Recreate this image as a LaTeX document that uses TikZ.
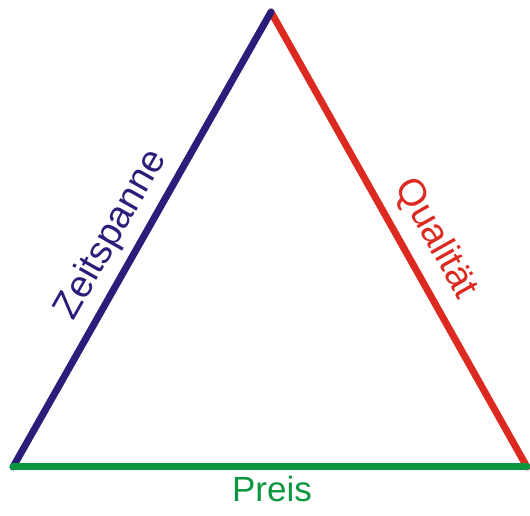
\documentclass[tikz,border=0pt]{standalone}
\usepackage{fontspec}
\setmainfont{Liberation Sans}
\definecolor{triblue}{RGB}{43,30,122}
\definecolor{trired}{RGB}{220,42,32}
\definecolor{trigreen}{RGB}{12,150,64}
\begin{document}
\begin{tikzpicture}[x=1pt,y=1pt,
  edge/.style={line width=7pt,line cap=round},
  lbl/.style={font=\fontsize{38}{42}\selectfont,inner sep=0pt,text height=0.72em,text depth=0pt,anchor=center}]
\useasboundingbox (0,0) rectangle (530,516);
\coordinate (A) at (271,504);
\coordinate (L) at (13,49);
\coordinate (R) at (527,49);
\draw[edge,trired] (A) -- (R);
\draw[edge,triblue] (L) -- (A);
\draw[edge,trigreen] (L) -- (R);
\node[lbl,text=triblue,rotate=60.45] (zeit) at (117,278) {Zeitspanne};
\node[lbl,text=trired,rotate=-60.63] (qual) at (430,274) {Qualität};
\node[lbl,font=\fontsize{35}{40}\selectfont,text=trigreen,anchor=base] (preis) at (272,14) {Preis};
\end{tikzpicture}
\end{document}
